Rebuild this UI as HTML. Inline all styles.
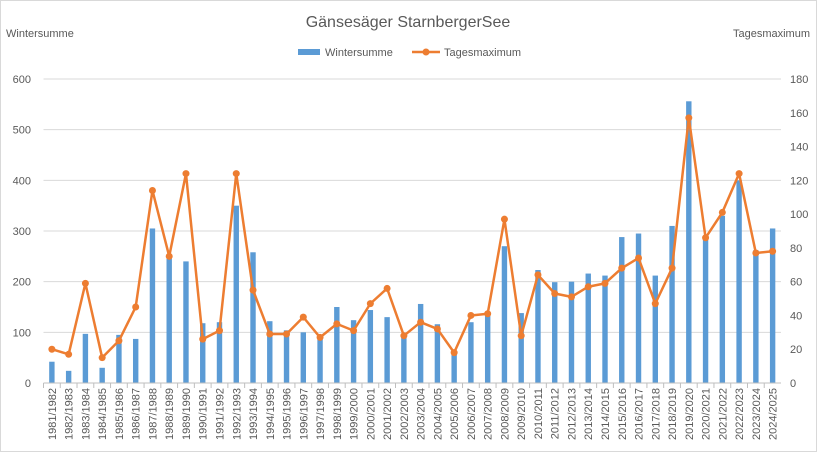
<!DOCTYPE html>
<html><head><meta charset="utf-8"><style>
body{margin:0;background:#fff;font-family:"Liberation Sans",sans-serif}
svg text{font-family:"Liberation Sans",sans-serif;fill:#595959}
</style></head><body>
<svg id="c" width="817" height="452" xmlns="http://www.w3.org/2000/svg">
<rect x="0.5" y="0.5" width="816" height="451" fill="#fff" stroke="#d9d9d9"/>
<text x="408" y="27" font-size="16" text-anchor="middle">Gänsesäger StarnbergerSee</text>
<text x="6" y="37" font-size="11">Wintersumme</text>
<text x="810" y="37" font-size="11" text-anchor="end">Tagesmaximum</text>
<g>
<rect x="298" y="49" width="22" height="6" fill="#5b9bd5"/>
<text x="325" y="56" font-size="11">Wintersumme</text>
<line x1="412" y1="52" x2="440" y2="52" stroke="#ed7d31" stroke-width="2.5"/>
<circle cx="426" cy="52" r="3.5" fill="#ed7d31"/>
<text x="444" y="56" font-size="11">Tagesmaximum</text>
</g>
<g id="grid"></g><g id="bars"></g><g id="line"></g><g id="axes"></g>
</svg>
<script>
const categories=["1981/1982","1982/1983","1983/1984","1984/1985","1985/1986","1986/1987","1987/1988","1988/1989","1989/1990","1990/1991","1991/1992","1992/1993","1993/1994","1994/1995","1995/1996","1996/1997","1997/1998","1998/1999","1999/2000","2000/2001","2001/2002","2002/2003","2003/2004","2004/2005","2005/2006","2006/2007","2007/2008","2008/2009","2009/2010","2010/2011","2011/2012","2012/2013","2013/2014","2014/2015","2015/2016","2016/2017","2017/2018","2018/2019","2019/2020","2020/2021","2021/2022","2022/2023","2023/2024","2024/2025"];
const wintersumme=[42,24,97,30,95,87,305,250,240,118,120,350,258,122,104,100,92,150,124,144,130,95,156,116,62,120,135,270,138,223,199,200,216,212,288,295,212,310,556,287,330,400,262,305];
const tagesmaximum=[20,17,59,15,25,45,114,75,124,26,31,124,55,29,29,39,27,35,31,47,56,28,36,32,18,40,41,97,28,64,53,51,57,59,68,74,47,68,157,86,101,124,77,78];
const leftTicks=[0,100,200,300,400,500,600];
const rightTicks=[0,20,40,60,80,100,120,140,160,180];
const NS="http://www.w3.org/2000/svg";
const X0=43.5,X1=781,Y0=383,Y1=79;
const bw=(X1-X0)/categories.length;
const xc=i=>X0+bw*(i+0.5);
const yL=v=>Y0-(v/600)*(Y0-Y1);
const yR=v=>Y0-(v/180)*(Y0-Y1);
function mk(tag,attrs,parent,txt){const e=document.createElementNS(NS,tag);for(const k in attrs)e.setAttribute(k,attrs[k]);if(txt!==undefined)e.textContent=txt;document.getElementById(parent).appendChild(e);return e;}
leftTicks.forEach(t=>{
 if(t>0){const g=mk('line',{x1:X0,x2:X1,y1:yL(t),y2:yL(t),stroke:'#d9d9d9','stroke-width':1},'grid');
 
 }
 const l=mk('text',{x:31,y:yL(t)+4,'font-size':11,'text-anchor':'end'},'axes',t);
 
 
});
rightTicks.forEach(t=>{
 const l=mk('text',{x:790,y:yR(t)+4,'font-size':11},'axes',t);
 
 
});
const ax=mk('line',{x1:X0,x2:X1,y1:Y0,y2:Y0,stroke:'#bfbfbf'},'axes');


categories.forEach((c,i)=>{
 const tk=mk('line',{x1:X0+bw*i,x2:X0+bw*i,y1:Y0,y2:Y0+5,stroke:'#bfbfbf'},'axes');
 
 
 const x=xc(i)+4;
 const l=mk('text',{x:x,y:388,'font-size':11,'text-anchor':'end',transform:`rotate(-90 ${x} 388)`},'axes',c);
 
 
 const b=mk('rect',{x:xc(i)-2.7,y:yL(wintersumme[i]),width:5.4,height:Y0-yL(wintersumme[i]),fill:'#5b9bd5'},'bars');
 
 
});
const pl=mk('polyline',{points:tagesmaximum.map((v,i)=>xc(i)+','+yR(v)).join(' '),fill:'none',stroke:'#ed7d31','stroke-width':2.5,'stroke-linejoin':'round'},'line');


tagesmaximum.forEach((v,i)=>{
 const p=mk('circle',{cx:xc(i),cy:yR(v),r:3.5,fill:'#ed7d31'},'line');
 
 
});
</script>
</body></html>
